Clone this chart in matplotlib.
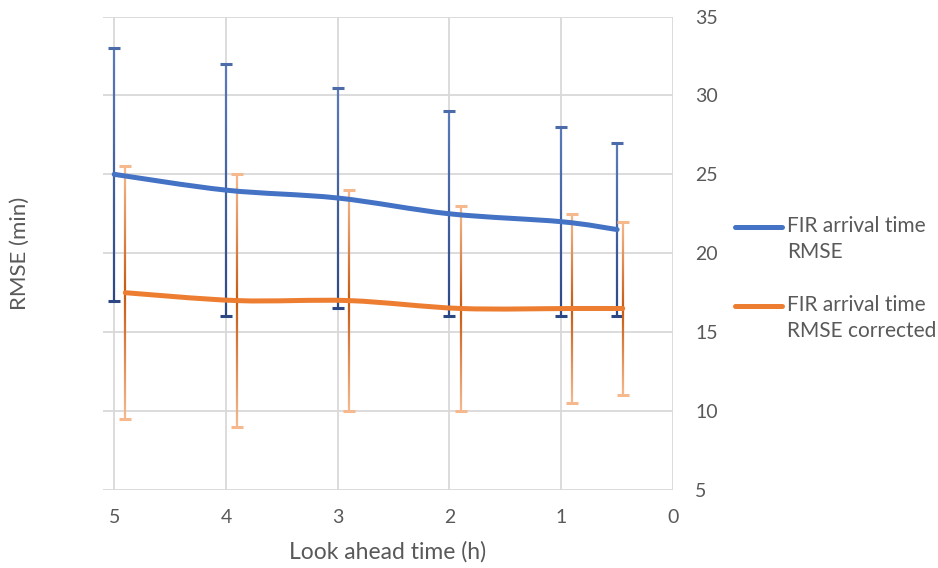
import numpy as np
import matplotlib
matplotlib.use("Agg")
import matplotlib.pyplot as plt
from matplotlib.path import Path
from matplotlib.patches import PathPatch
from matplotlib.collections import LineCollection
from matplotlib.colors import to_rgba
from matplotlib.lines import Line2D

# ---- data ----
lead_hours = [5, 4, 3, 2, 1, 0.5]
rmse = [25, 24, 23.5, 22.5, 22, 21.5]
rmse_err = [8, 8, 7, 6.5, 6, 5.5]

lead_hours_corr = [4.9, 3.9, 2.9, 1.9, 0.9, 0.45]
rmse_corr = [17.5, 17, 17, 16.5, 16.5, 16.5]
rmse_corr_err = [8, 8, 7, 6.5, 6, 5.5]

series_labels = ["FIR arrival time\nRMSE", "FIR arrival time\nRMSE corrected"]
series_colors = ["#4472C4", "#ED7D31"]
x_ticks = [5, 4, 3, 2, 1, 0]
y_ticks = [5, 10, 15, 20, 25, 30, 35]

TEXT = "#595959"
GRID = "#d9d9d9"
plt.rcParams["font.family"] = ["Lato", "DejaVu Sans"]

W, H = 938, 568
fig = plt.figure(figsize=(W / 100, H / 100), dpi=100)
ax = fig.add_axes([103 / W, 1 - 490 / H, 570 / W, 473.5 / H])


def smooth_path(xs, ys):
    """Smoothed polyline through the points (Catmull-Rom as cubic Beziers)."""
    pts = np.column_stack([xs, ys]).astype(float)
    n = len(pts)
    verts = [pts[0]]
    codes = [Path.MOVETO]
    for i in range(n - 1):
        p0 = pts[i - 1] if i > 0 else pts[i]
        p1, p2 = pts[i], pts[i + 1]
        p3 = pts[i + 2] if i + 2 < n else pts[i + 1]
        verts += [p1 + (p2 - p0) / 6, p2 - (p3 - p1) / 6, p2]
        codes += [Path.CURVE4] * 3
    return Path(verts, codes)


def mix(c1, c2, t):
    a, b = np.array(to_rgba(c1)), np.array(to_rgba(c2))
    t = np.clip(np.asarray(t), 0, 1)[..., None]
    return a * (1 - t) + b * t


def gradient_errorbar(ax, xs, ys, errs, dark, light, mode, n=80, lw=1.6):
    segs, cols = [], []
    for x, y, e in zip(xs, ys, errs):
        lo, hi = y - e, y + e
        edges = np.linspace(lo, hi, n + 1)
        mids = (edges[:-1] + edges[1:]) / 2
        if mode == "vertical":
            t = (mids - lo) / (hi - lo)
        else:
            t = np.abs(mids - y) / e
        c = mix(dark, light, t)
        for k in range(n):
            segs.append([(x, edges[k]), (x, edges[k + 1])])
            cols.append(c[k])
    ax.add_collection(LineCollection(segs, colors=cols, linewidths=lw,
                                     capstyle="butt", zorder=3))
    lows = [y - e for y, e in zip(ys, errs)]
    highs = [y + e for y, e in zip(ys, errs)]
    if mode == "vertical":
        cap_lo, cap_hi = dark, mix(dark, light, 0.7)
    else:
        cap_lo = cap_hi = light
    ax.plot(xs, lows, ls="none", marker="_", ms=8, mew=2.2, color=cap_lo, zorder=3)
    ax.plot(xs, highs, ls="none", marker="_", ms=8, mew=2.2, color=cap_hi, zorder=3)


# error bars
gradient_errorbar(ax, lead_hours, rmse, rmse_err, "#2c4884", "#5a7aba", "vertical")
gradient_errorbar(ax, lead_hours_corr, rmse_corr, rmse_corr_err,
                  "#c55a11", "#f6b98e", "center")

# smoothed series lines
for xs, ys, col in [(lead_hours, rmse, series_colors[0]),
                    (lead_hours_corr, rmse_corr, series_colors[1])]:
    ax.add_patch(PathPatch(smooth_path(xs, ys), fill=False, edgecolor=col,
                           lw=3.6, capstyle="round", joinstyle="round", zorder=4))

ax.set_xlim(5.1, 0)
ax.set_ylim(5, 35)
ax.set_xticks(x_ticks)
ax.set_xticklabels([str(v) for v in x_ticks])
ax.set_yticks(y_ticks)
ax.yaxis.tick_right()
ax.tick_params(axis="y", length=0, pad=16, labelsize=14, labelcolor=TEXT)
ax.tick_params(axis="x", length=0, pad=14, labelsize=14, labelcolor=TEXT)
ax.grid(True, color=GRID, lw=1.3, zorder=0)
ax.set_axisbelow(True)
for s in ax.spines.values():
    s.set_visible(False)

ax.set_ylabel("RMSE (min)", fontsize=16, color=TEXT)
ax.yaxis.set_label_position("left")
ax.yaxis.label.set_va("center")
ax.yaxis.set_label_coords(-(103 - 20) / 570, 0.5)
ax.set_xlabel("Look ahead time (h)", fontsize=16.5, color=TEXT)
ax.xaxis.label.set_va("center")
ax.xaxis.set_label_coords(0.5, -(552 - 490) / 473.5)

# legend at the right of the plot
for (y_px, label, col) in zip([227, 306], series_labels, series_colors):
    yf = 1 - y_px / H
    fig.add_artist(Line2D([735 / W, 782 / W], [yf, yf], color=col, lw=3.6,
                          solid_capstyle="round", transform=fig.transFigure))
    fig.text(787 / W, 1 - (y_px - 11) / H, label, fontsize=15, color=TEXT,
             ha="left", va="top", linespacing=1.4)

fig.savefig("out.png", dpi=100)
